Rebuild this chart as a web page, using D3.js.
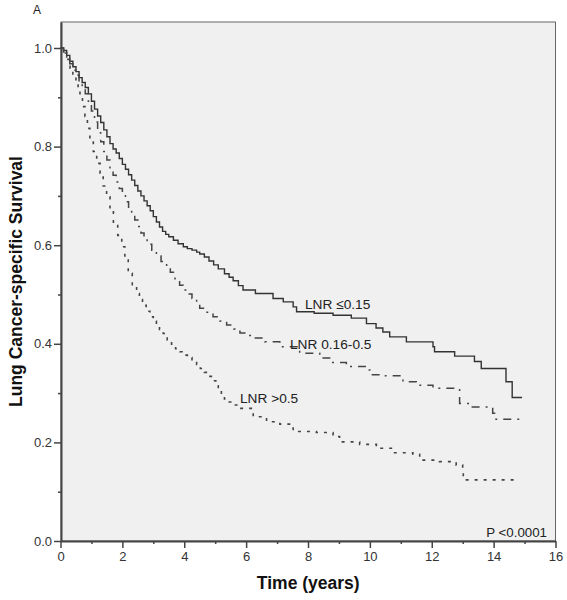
<!DOCTYPE html>
<html>
<head>
<meta charset="utf-8">
<script src="https://cdn.jsdelivr.net/npm/d3@7"></script>
<style>
  html, body { margin: 0; padding: 0; background: #fff; }
  svg { display: block; }
  text { font-family: Arial, "Liberation Sans", sans-serif; }
</style>
</head>
<body>
<svg id="chart" width="567" height="600"></svg>
<script>
// ---- Data ----
const seriesNames = ["LNR \u22640.15", "LNR 0.16-0.5", "LNR >0.5"];

const lowTime = [0,0.1,0.2,0.3,0.4,0.5,0.6,0.7,0.8,0.9,1.0,1.1,1.2,1.3,1.4,1.5,1.6,1.7,1.8,1.9,2.0,2.1,2.2,2.3,2.4,2.5,2.6,2.7,2.8,2.9,3.0,3.1,3.2,3.3,3.4,3.5,3.65,3.8,3.97,4.1,4.25,4.4,4.5,4.65,4.8,4.95,5.1,5.3,5.45,5.58,5.75,5.9,6.3,6.87,7.2,7.52,7.63,8.2,8.81,9.4,9.89,10.2,10.42,10.64,11.18,12.04,12.09,12.74,13.38,13.6,14.4,14.6,14.92];
const lowSurv = [1.0,0.995,0.985,0.973,0.962,0.952,0.94,0.93,0.92,0.907,0.892,0.876,0.862,0.849,0.834,0.82,0.806,0.795,0.787,0.776,0.764,0.754,0.743,0.732,0.721,0.71,0.70,0.69,0.68,0.67,0.658,0.647,0.637,0.628,0.622,0.617,0.61,0.603,0.597,0.593,0.59,0.586,0.582,0.576,0.568,0.56,0.552,0.542,0.535,0.528,0.518,0.509,0.502,0.492,0.485,0.475,0.465,0.462,0.458,0.452,0.441,0.432,0.424,0.414,0.404,0.394,0.384,0.375,0.364,0.35,0.323,0.291,0.291];

const midTime = [0,0.1,0.2,0.3,0.4,0.5,0.6,0.7,0.8,0.9,1.0,1.1,1.2,1.3,1.4,1.5,1.6,1.7,1.8,1.9,2.0,2.1,2.2,2.3,2.4,2.5,2.6,2.7,2.8,2.95,3.1,3.25,3.43,3.55,3.7,3.85,3.97,4.1,4.25,4.4,4.5,4.7,4.93,5.15,5.37,5.6,5.8,6.0,6.23,6.6,7.09,7.73,8.38,8.8,9.24,9.89,10.0,10.5,11.07,11.5,12.04,12.9,13.22,13.97,14.03,15.0];
const midSurv = [1.0,0.992,0.98,0.968,0.955,0.945,0.932,0.92,0.907,0.892,0.872,0.85,0.828,0.81,0.79,0.773,0.757,0.742,0.728,0.715,0.702,0.688,0.673,0.662,0.651,0.638,0.625,0.613,0.602,0.59,0.578,0.567,0.556,0.545,0.532,0.519,0.509,0.501,0.492,0.481,0.472,0.464,0.455,0.446,0.438,0.43,0.422,0.417,0.412,0.404,0.394,0.381,0.371,0.362,0.354,0.347,0.337,0.335,0.323,0.316,0.31,0.279,0.272,0.259,0.247,0.247];

const highTime = [0,0.1,0.2,0.31,0.4,0.5,0.57,0.63,0.71,0.79,0.87,0.95,1.06,1.17,1.28,1.38,1.49,1.6,1.71,1.85,1.98,2.08,2.19,2.32,2.46,2.55,2.65,2.77,2.89,3.0,3.1,3.2,3.32,3.45,3.59,3.72,3.86,4.0,4.1,4.25,4.4,4.52,4.65,4.8,4.93,5.02,5.1,5.2,5.3,5.45,5.6,5.8,6.23,6.66,7.09,7.52,8.27,8.81,9.02,9.67,10.21,10.75,11.39,11.61,12.25,12.79,13.0,13.02,14.78];
const highSurv = [1.0,0.99,0.977,0.959,0.944,0.93,0.915,0.901,0.881,0.861,0.837,0.813,0.79,0.766,0.746,0.72,0.698,0.67,0.644,0.62,0.597,0.57,0.543,0.52,0.502,0.49,0.478,0.466,0.455,0.446,0.437,0.429,0.421,0.408,0.396,0.39,0.384,0.377,0.372,0.366,0.358,0.35,0.342,0.334,0.325,0.315,0.305,0.296,0.288,0.282,0.276,0.269,0.252,0.242,0.237,0.222,0.22,0.212,0.201,0.196,0.188,0.179,0.176,0.164,0.161,0.154,0.144,0.124,0.124];

const xMajorTicks = [0,2,4,6,8,10,12,14,16];
const xMinorTicks = [1,3,5,7,9,11,13,15];
const yMajorTicks = [0,0.2,0.4,0.6,0.8,1.0];
const yMinorTicks = [0.1,0.3,0.5,0.7,0.9];
const xTitle = "Time (years)";
const yTitle = "Lung Cancer-specific Survival";
const pText = "P <0.0001";
const panelLabel = "A";

// ---- Layout ----
const svg = d3.select("#chart");
const L = 61, R = 555.5, T = 22, B = 541;
const x = d3.scaleLinear().domain([0, 16]).range([60.5, 555.5]);
const y = d3.scaleLinear().domain([0, 1]).range([541, 48]);
const yTop = y.invert(T);

// plot background
svg.append("rect").attr("x", L).attr("y", T).attr("width", R - L).attr("height", B - T)
  .attr("fill", "#f0f0f0").attr("stroke", "#666").attr("stroke-width", 1);

// axes
const axisColor = "#444";
svg.append("g").attr("transform", `translate(${L},0)`)
  .call(d3.axisLeft(d3.scaleLinear().domain([0, yTop]).range([B, T]))
    .tickValues(yMajorTicks).tickFormat(d3.format(".1f")).tickSize(7).tickSizeOuter(0).tickPadding(2));
svg.append("g").attr("transform", `translate(${L},0)`)
  .call(d3.axisLeft(y).tickValues(yMinorTicks).tickFormat("").tickSize(3).tickSizeOuter(0))
  .select(".domain").remove();
svg.append("g").attr("transform", `translate(0,${B})`)
  .call(d3.axisBottom(x).tickValues(xMajorTicks).tickFormat(d3.format("d")).tickSize(7).tickSizeOuter(0).tickPadding(4));
svg.append("g").attr("transform", `translate(0,${B})`)
  .call(d3.axisBottom(x).tickValues(xMinorTicks).tickFormat("").tickSize(3).tickSizeOuter(0))
  .select(".domain").remove();

svg.selectAll(".domain").attr("stroke", axisColor).attr("stroke-width", 2);
svg.selectAll(".tick line").attr("stroke", axisColor).attr("stroke-width", 1.5);
svg.selectAll(".tick text").attr("font-size", 13).attr("fill", "#333")
  .attr("font-family", "Arial, 'Liberation Sans', sans-serif");

// curves
const line = d3.line().x(d => x(d[0])).y(d => y(d[1])).curve(d3.curveStepAfter);
const series = [
  { t: lowTime, s: lowSurv, dash: null, color: "#333", w: 1.4 },
  { t: midTime, s: midSurv, dash: "8,6,2,6", color: "#444", w: 1.5 },
  { t: highTime, s: highSurv, dash: "3,6", color: "#444", w: 1.6 }
];
series.forEach(sr => {
  const pts = sr.t.map((t, i) => [t, sr.s[i]]);
  svg.append("path").datum(pts).attr("d", line)
    .attr("fill", "none").attr("stroke", sr.color).attr("stroke-width", sr.w)
    .attr("stroke-dasharray", sr.dash);
});

// series labels
const labelPos = [[305, 309], [290, 349], [240, 403]];
seriesNames.forEach((n, i) => {
  svg.append("text").attr("x", labelPos[i][0]).attr("y", labelPos[i][1])
    .attr("font-size", 13.7).attr("fill", "#222").text(n);
});

// p value
svg.append("text").attr("x", 547).attr("y", 537).attr("text-anchor", "end")
  .attr("font-size", 13.3).attr("fill", "#222").text(pText);

// titles
svg.append("text").attr("x", (L + R) / 2).attr("y", 589).attr("text-anchor", "middle")
  .attr("font-size", 17.5).attr("font-weight", "bold").attr("fill", "#111").text(xTitle);
svg.append("text").attr("transform", `translate(22,${(T + B) / 2}) rotate(-90)`)
  .attr("text-anchor", "middle").attr("font-size", 17.5).attr("font-weight", "bold")
  .attr("fill", "#111").text(yTitle);

// panel label
svg.append("text").attr("x", 33).attr("y", 14).attr("font-size", 12)
  .attr("font-family", "'Times New Roman', 'Liberation Serif', serif").attr("fill", "#222").text(panelLabel);
</script>
</body>
</html>
